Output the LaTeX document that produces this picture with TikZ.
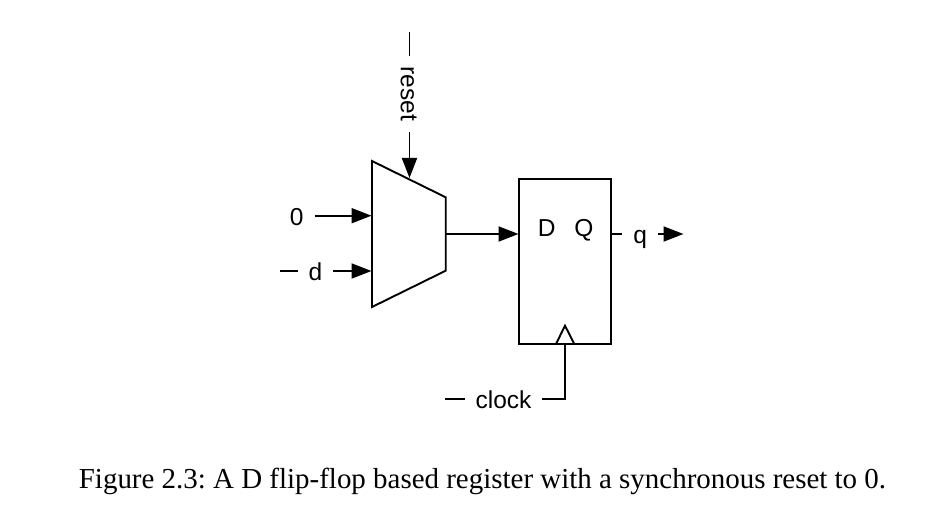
\documentclass[tikz,border=0pt]{standalone}
\usepackage{fontspec}
\setmainfont{Liberation Serif}
\setsansfont{Liberation Sans}
\usetikzlibrary{arrows.meta,positioning,calc}
\tikzset{
  wire/.style={line width=1.9pt},
  arr/.style={wire,-{Triangle[length=20pt,width=15pt]}},
  lab/.style={font=\sffamily\fontsize{24.5}{28}\selectfont,inner xsep=11pt,inner ysep=0pt,outer sep=0pt,text height=17.5pt,text depth=0pt},
  captext/.style={font=\fontsize{28.95}{34}\selectfont\frenchspacing,inner sep=0pt}
}
\begin{document}
\begin{tikzpicture}[x=1pt,y=-1pt]
    \useasboundingbox (0,0) rectangle (951,532);

    \coordinate (m1) at (372,161);
    \coordinate (m2) at (445.7,197.3);
    \coordinate (m3) at (445.7,270.7);
    \coordinate (m4) at (372,307);
    \draw[wire,line join=miter] (m1) -- (m2) -- (m3) -- (m4) -- cycle;

    \node[draw,line width=1.9pt,minimum width=92.3pt,minimum height=165pt,inner sep=0pt,outer sep=0pt] (ff) at (565.2,261.5) {};
    \node[lab,inner xsep=0pt] (D) at (546.7,227.5) {D};
    \node[lab,inner xsep=0pt] (Q) at (584,227.5) {Q};
    \coordinate (ck1) at (556,344);
    \coordinate (ck2) at (565,325.7);
    \coordinate (ck3) at (574.3,344);
    \draw[wire] (ck1) -- (ck2) -- (ck3);

    \coordinate (rs0) at (409.5,31.7);
    \coordinate (rs1) at (409.5,178);
    \node[lab,rotate=-90] (reset) at (409.5,94) {reset};
    \draw[wire] (rs0) -- (reset);
    \draw[arr] (reset) -- (rs1);

    \coordinate (z1) at (371.5,215.7);
    \node[lab] (zero) at (296.7,216.5) {0};
    \draw[arr] (zero.east |- z1) -- (z1);

    \coordinate (d0) at (280,271);
    \coordinate (d1) at (371.5,271);
    \node[lab] (d) at (315.5,271.5) {d};
    \draw[wire] (d0) -- (d0 -| d.west);
    \draw[arr] (d1 -| d.east) -- (d1);

    \coordinate (o0) at (445.7,234);
    \coordinate (o1) at (518.5,234);
    \draw[arr] (o0) -- (o1);

    \coordinate (q0) at (611.3,234);
    \coordinate (q1) at (683.5,234);
    \node[lab] (q) at (640.3,235) {q};
    \draw[wire] (q0) -- (q0 -| q.west);
    \draw[arr] (q1 -| q.east) -- (q1);

    \coordinate (c0) at (445,399);
    \coordinate (c1) at (564.7,399);
    \coordinate (c2) at (564.7,344);
    \node[lab] (clock) at (503.5,400) {clock};
    \draw[wire] (c0) -- (c0 -| clock.west);
    \draw[wire] (c1 -| clock.east) -- (c1) -- (c2);

    \node[captext] (caption) at (482.5,481) {Figure 2.3: A D flip-flop based register with a synchronous reset to 0.};
  \end{tikzpicture}
\end{document}
